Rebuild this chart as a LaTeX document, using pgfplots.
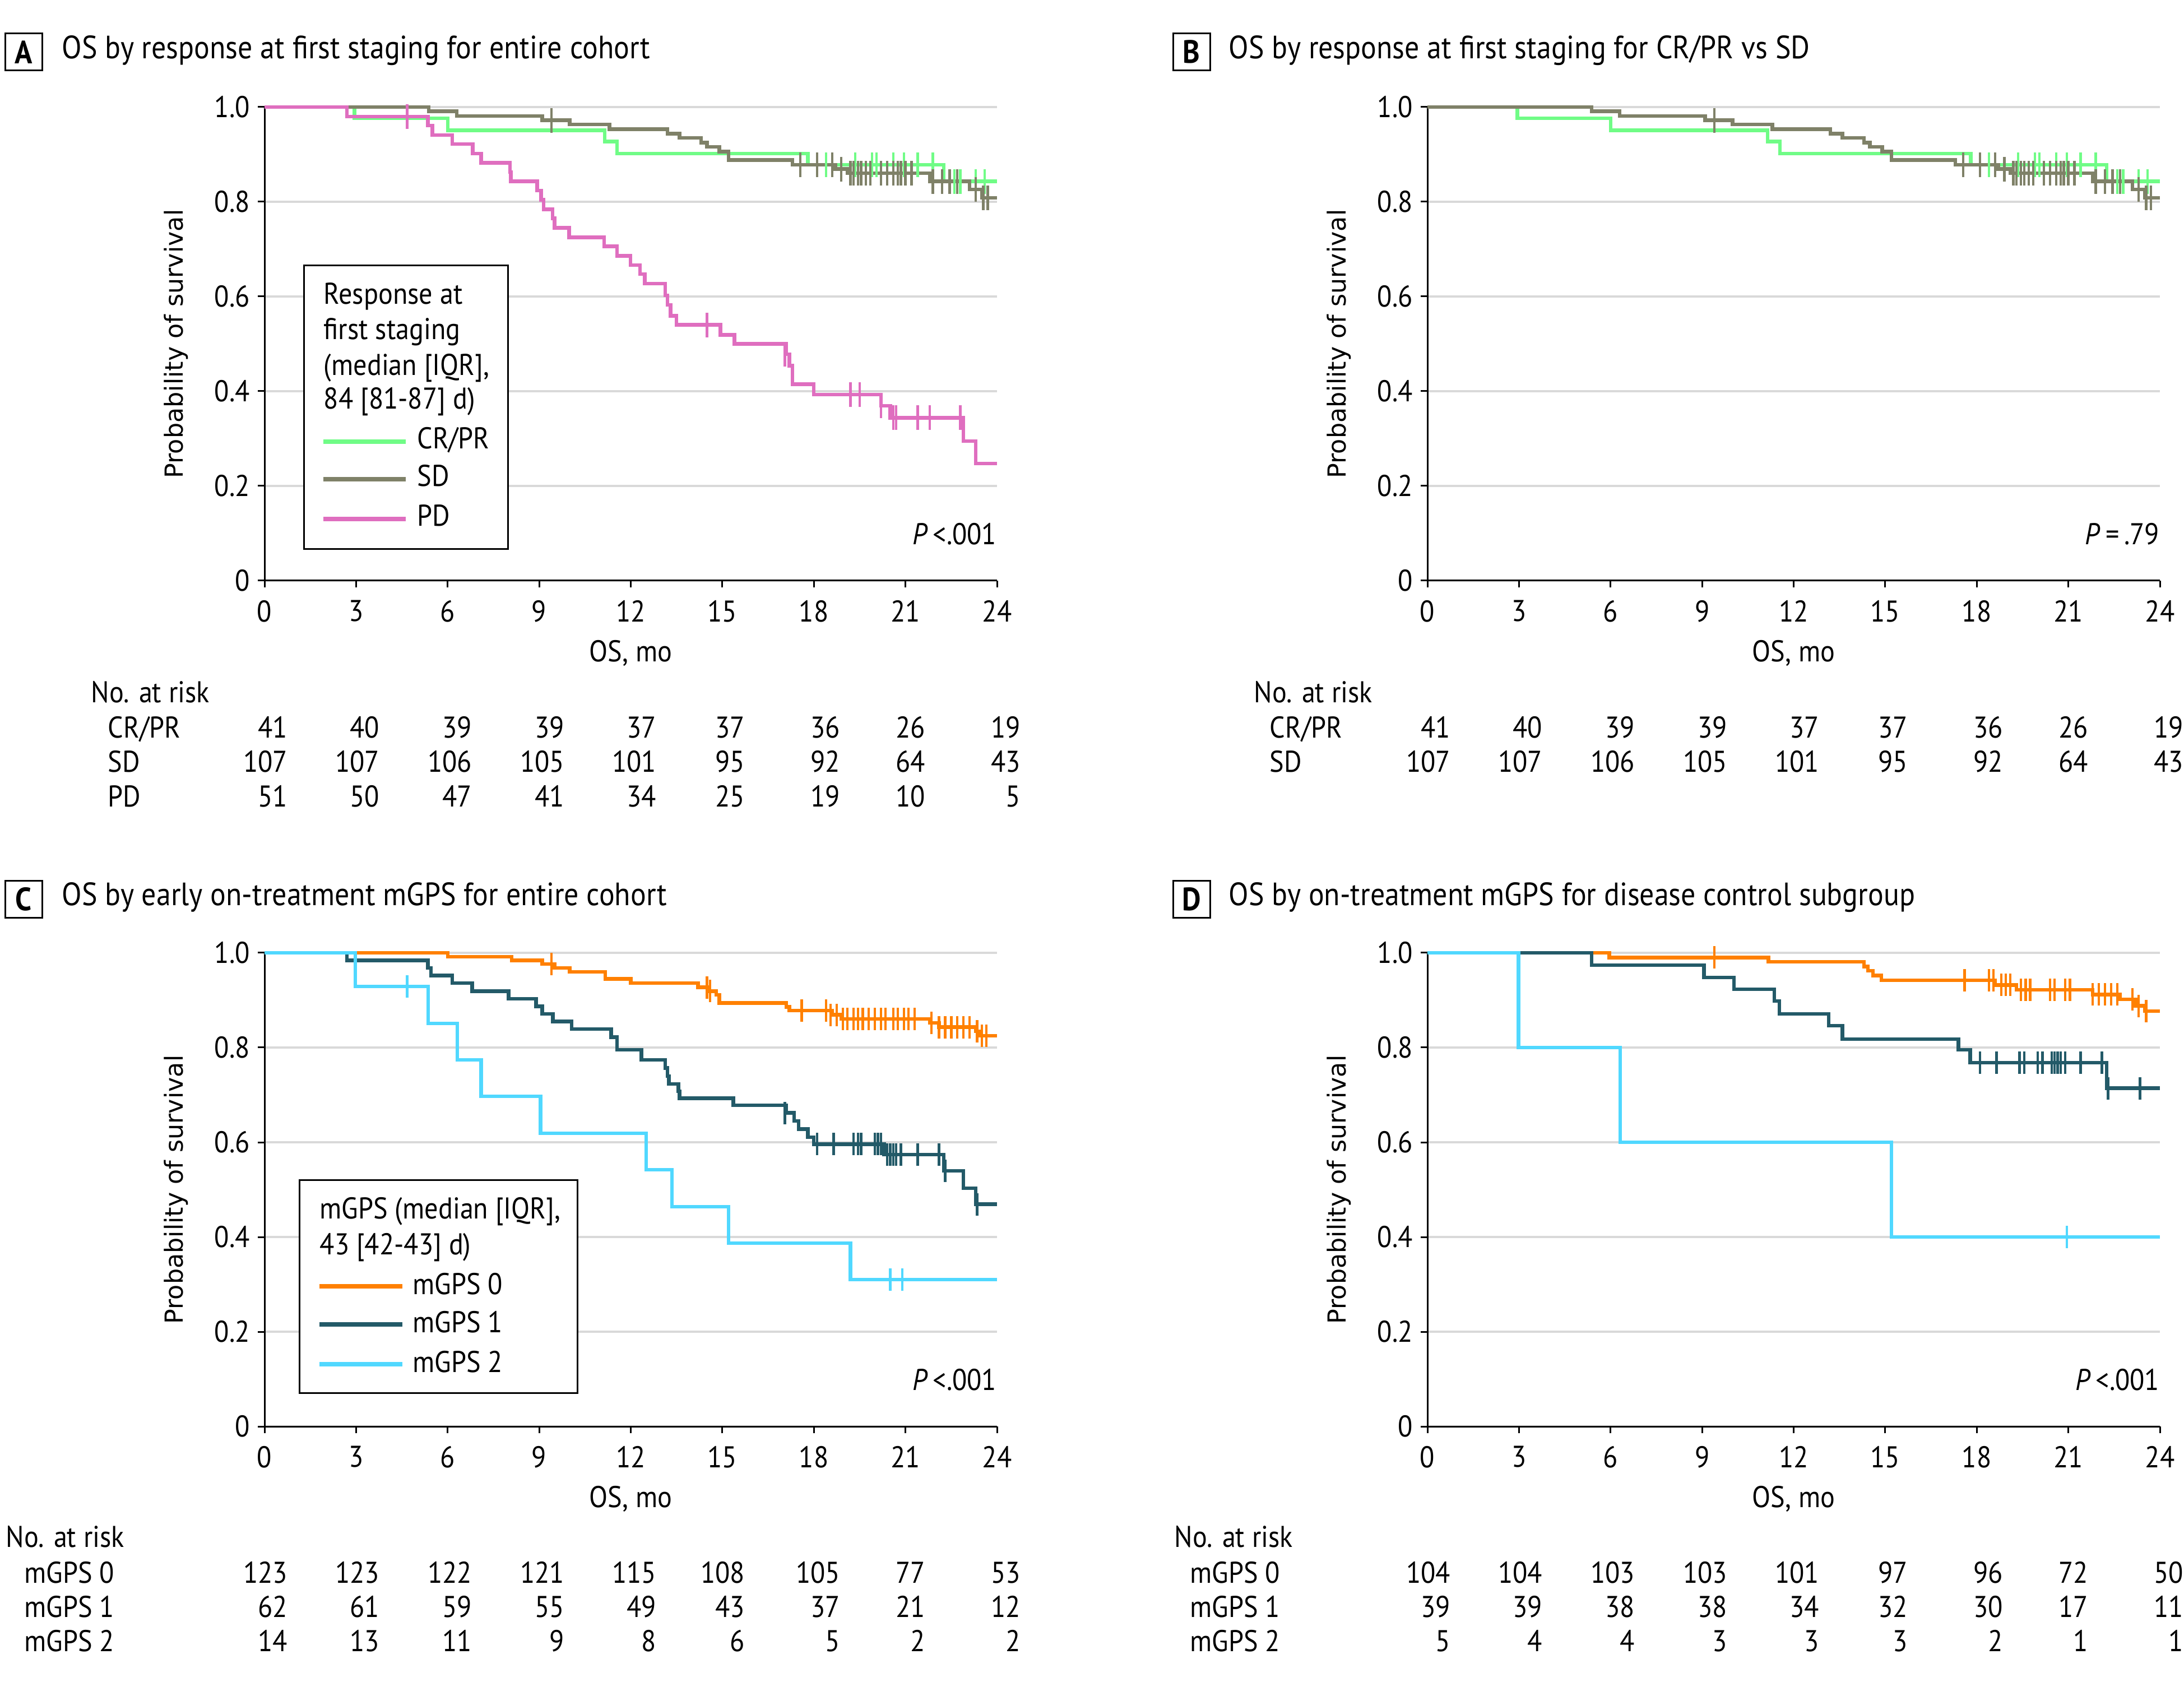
\documentclass[border=0pt]{standalone}
\usepackage{fontspec}
\setmainfont{PT Sans}[FakeStretch=0.9]
\newfontfamily\ylabfont{DejaVu Sans}
\usepackage{pgfplots}
\pgfplotsset{compat=1.18}
\definecolor{crpr}{HTML}{70FC86}
\definecolor{sdc}{HTML}{7F8168}
\definecolor{pdc}{HTML}{DF6EBF}
\definecolor{mgz}{HTML}{FF8000}
\definecolor{mgo}{HTML}{235A68}
\definecolor{mgt}{HTML}{50D8FF}
\definecolor{gridgray}{HTML}{D9D9D9}
\newcommand\tfont{\fontsize{13.4}{16}\selectfont}
\newcommand\hfont{\fontsize{14.4}{17}\selectfont}
\pgfplotsset{
  km/.style={scale only axis, width=326.75pt, height=211.25pt,
    xmin=0, xmax=24, ymin=0, ymax=1,
    axis x line*=bottom, axis y line*=left, tick pos=left,
    axis line style={-, line width=0.75pt},
    xtick={0,3,6,9,12,15,18,21,24}, xticklabels={0,3,6,9,12,15,18,21,24},
    ytick={0,0.2,0.4,0.6,0.8,1}, yticklabels={0,0.2,0.4,0.6,0.8,1.0},
    tick align=outside, major tick length=3pt,
    tick style={black, line width=0.75pt},
    ymajorgrids, grid style={color=gridgray, line width=1pt},
    clip=false,
    ticklabel style={font=\tfont},
    xticklabel style={yshift=-2.2pt},
    xlabel={OS, mo}, ylabel={Probability of survival},
    xlabel style={at={(axis description cs:0.5,-0.153)}, anchor=center, font=\tfont},
    ylabel style={at={(axis description cs:-0.121,0.5)}, anchor=center, font=\ylabfont\fontsize{11.1}{13}\selectfont},
  },
  kmline/.style={const plot, no marks, line width=1.6pt, color=#1},
  kmcens/.style={only marks, mark=|, mark size=5.5pt, color=#1, mark options={line width=1.1pt, color=#1}},
}
\newcommand\riskrow[3]{%
  \foreach \v [count=\i from 0] in {#3}{%
    \pgfmathsetmacro\xx{{128.5,169.5,210.75,252,293,332.5,375,413,455.5}[\i]+#1}%
    \node[anchor=mid east, inner sep=0pt, font=\tfont] at (\xx pt,#2 pt) {\v};}}
\begin{document}
\begin{tikzpicture}
\useasboundingbox (0,0) rectangle (974.25pt,750pt);
% ---------- Panel A ----------
\begin{axis}[km, at={(118pt,491pt)}, anchor=south west]
\addplot[kmline=crpr] coordinates {(0,1)(2.95,0.976)(6.0,0.951)(11.15,0.927)(11.55,0.902)(17.8,0.878)(22.25,0.843)(24,0.843)};
\addplot[kmcens=crpr] coordinates {(18.1,0.878)(18.4,0.878)(19.35,0.878)(19.9,0.878)(20.05,0.878)(20.6,0.878)(20.95,0.878)(21.4,0.878)(21.9,0.878)(22.6,0.843)(22.8,0.843)(23.3,0.843)(23.6,0.843)};
\addplot[kmline=sdc] coordinates {(0,1)(5.38,0.991)(6.3,0.981)(9.1,0.972)(10.0,0.963)(11.3,0.953)(13.2,0.944)(13.6,0.935)(14.3,0.925)(14.5,0.916)(14.9,0.906)(15.2,0.888)(17.3,0.878)(18.7,0.869)(19.1,0.86)(21.8,0.843)(23.1,0.826)(23.5,0.808)(24,0.808)};
\addplot[kmcens=sdc] coordinates {(9.4,0.972)(17.55,0.878)(18.1,0.878)(18.6,0.878)(18.9,0.869)(19.2,0.86)(19.3,0.86)(19.45,0.86)(19.55,0.86)(19.7,0.86)(19.85,0.86)(20.2,0.86)(20.4,0.86)(20.6,0.86)(20.75,0.86)(20.85,0.86)(21.0,0.86)(21.2,0.86)(21.9,0.843)(22.2,0.843)(22.45,0.843)(22.7,0.843)(23.3,0.826)(23.55,0.808)(23.7,0.808)};
\addplot[kmline=pdc] coordinates {(0,1)(2.7,0.980)(5.35,0.961)(5.5,0.941)(6.15,0.922)(6.82,0.902)(7.1,0.882)(8.04,0.863)(8.07,0.843)(8.93,0.824)(9.06,0.804)(9.14,0.784)(9.44,0.765)(9.5,0.745)(9.98,0.725)(11.13,0.706)(11.55,0.686)(11.99,0.666)(12.3,0.647)(12.46,0.627)(13.13,0.602)(13.2,0.582)(13.3,0.559)(13.5,0.540)(14.94,0.519)(15.4,0.500)(17.1,0.478)(17.2,0.454)(17.3,0.415)(18.0,0.393)(20.2,0.369)(20.5,0.344)(22.9,0.295)(23.3,0.247)(24,0.247)};
\addplot[kmcens=pdc] coordinates {(4.67,0.98)(14.5,0.54)(17.05,0.478)(19.2,0.393)(19.5,0.393)(20.2,0.369)(20.6,0.344)(20.7,0.344)(21.4,0.344)(21.8,0.344)(22.8,0.344)};
\draw[fill=white, line width=0.75pt] (axis cs:1.29,0.067) rectangle (axis cs:7.98,0.666);
\node[anchor=mid west, inner sep=0pt, font=\tfont] at (axis cs:1.93,0.596) {Response at};
\node[anchor=mid west, inner sep=0pt, font=\tfont] at (axis cs:1.93,0.521) {first staging};
\node[anchor=mid west, inner sep=0pt, font=\tfont] at (axis cs:1.93,0.446) {(median [IQR],};
\node[anchor=mid west, inner sep=0pt, font=\tfont] at (axis cs:1.93,0.374) {84 [81-87] d)};
\draw[crpr, line width=2pt] (axis cs:1.93,0.293) -- (axis cs:4.63,0.293);
\draw[sdc, line width=2pt] (axis cs:1.93,0.214) -- (axis cs:4.63,0.214);
\draw[pdc, line width=2pt] (axis cs:1.93,0.130) -- (axis cs:4.63,0.130);
\node[anchor=mid west, inner sep=0pt, font=\tfont] at (axis cs:4.99,0.290) {CR/PR};
\node[anchor=mid west, inner sep=0pt, font=\tfont] at (axis cs:4.99,0.211) {SD};
\node[anchor=mid west, inner sep=0pt, font=\tfont] at (axis cs:4.99,0.127) {PD};
\node[anchor=mid east, inner sep=0pt, font=\tfont] at (axis cs:24,0.088) {\textit{P}\,<.001};
\end{axis}
% ---------- Panel B ----------
\begin{axis}[km, at={(636.75pt,491pt)}, anchor=south west]
\addplot[kmline=crpr] coordinates {(0,1)(2.95,0.976)(6.0,0.951)(11.15,0.927)(11.55,0.902)(17.8,0.878)(22.25,0.843)(24,0.843)};
\addplot[kmcens=crpr] coordinates {(18.1,0.878)(18.4,0.878)(19.35,0.878)(19.9,0.878)(20.05,0.878)(20.6,0.878)(20.95,0.878)(21.4,0.878)(21.9,0.878)(22.6,0.843)(22.8,0.843)(23.3,0.843)(23.6,0.843)};
\addplot[kmline=sdc] coordinates {(0,1)(5.38,0.991)(6.3,0.981)(9.1,0.972)(10.0,0.963)(11.3,0.953)(13.2,0.944)(13.6,0.935)(14.3,0.925)(14.5,0.916)(14.9,0.906)(15.2,0.888)(17.3,0.878)(18.7,0.869)(19.1,0.86)(21.8,0.843)(23.1,0.826)(23.5,0.808)(24,0.808)};
\addplot[kmcens=sdc] coordinates {(9.4,0.972)(17.55,0.878)(18.1,0.878)(18.6,0.878)(18.9,0.869)(19.2,0.86)(19.3,0.86)(19.45,0.86)(19.55,0.86)(19.7,0.86)(19.85,0.86)(20.2,0.86)(20.4,0.86)(20.6,0.86)(20.75,0.86)(20.85,0.86)(21.0,0.86)(21.2,0.86)(21.9,0.843)(22.2,0.843)(22.45,0.843)(22.7,0.843)(23.3,0.826)(23.55,0.808)(23.7,0.808)};
\node[anchor=mid east, inner sep=0pt, font=\tfont] at (axis cs:24,0.088) {\textit{P}\,=\,.79};
\end{axis}
% ---------- Panel C ----------
\begin{axis}[km, at={(118pt,113.75pt)}, anchor=south west]
\addplot[kmline=mgz] coordinates {(0,1)(6.0,0.992)(8.1,0.984)(9.1,0.976)(9.5,0.968)(10.0,0.960)(11.16,0.945)(12.0,0.936)(14.2,0.927)(14.55,0.919)(14.8,0.911)(14.9,0.894)(17.1,0.886)(17.2,0.878)(18.6,0.869)(18.9,0.860)(21.8,0.852)(22.1,0.843)(23.3,0.834)(23.45,0.825)(24,0.825)};
\addplot[kmcens=mgz, mark size=5pt] coordinates {(9.4,0.976)(14.5,0.927)(14.6,0.919)(17.6,0.878)(18.4,0.878)(18.55,0.869)(18.75,0.869)(18.95,0.860)(19.1,0.860)(19.3,0.860)(19.45,0.860)(19.6,0.860)(19.8,0.860)(20.0,0.860)(20.2,0.860)(20.35,0.860)(20.6,0.860)(20.75,0.860)(20.95,0.860)(21.1,0.860)(21.3,0.860)(21.85,0.852)(22.1,0.843)(22.3,0.843)(22.5,0.843)(22.7,0.843)(22.9,0.843)(23.1,0.843)(23.35,0.834)(23.5,0.825)(23.65,0.825)};
\addplot[kmline=mgo] coordinates {(0,1)(2.7,0.984)(5.35,0.968)(5.45,0.952)(6.15,0.936)(6.8,0.919)(8.0,0.903)(8.9,0.887)(9.1,0.871)(9.45,0.855)(10.06,0.839)(11.36,0.822)(11.55,0.795)(12.35,0.774)(13.13,0.757)(13.2,0.740)(13.25,0.723)(13.56,0.708)(13.6,0.693)(15.36,0.678)(17.1,0.662)(17.35,0.645)(17.5,0.628)(17.8,0.611)(18.0,0.596)(20.3,0.574)(22.25,0.540)(22.9,0.503)(23.3,0.469)(24,0.469)};
\addplot[kmcens=mgo, mark size=5pt] coordinates {(17.05,0.662)(18.1,0.596)(18.65,0.596)(19.3,0.596)(19.45,0.596)(19.55,0.596)(20.0,0.596)(20.1,0.596)(20.2,0.596)(20.4,0.574)(20.5,0.574)(20.6,0.574)(20.7,0.574)(20.85,0.574)(21.4,0.574)(22.1,0.574)(22.3,0.540)(23.35,0.469)};
\addplot[kmline=mgt] coordinates {(0,1)(2.98,0.929)(5.36,0.851)(6.32,0.774)(7.1,0.697)(9.04,0.619)(12.5,0.542)(13.35,0.464)(15.2,0.387)(19.2,0.310)(24,0.310)};
\addplot[kmcens=mgt, mark size=5pt] coordinates {(4.67,0.929)(20.5,0.31)(20.9,0.31)};
\draw[fill=white, line width=0.75pt] (axis cs:1.14,0.071) rectangle (axis cs:10.26,0.52);
\node[anchor=mid west, inner sep=0pt, font=\tfont] at (axis cs:1.80,0.450) {mGPS (median [IQR],};
\node[anchor=mid west, inner sep=0pt, font=\tfont] at (axis cs:1.80,0.374) {43 [42-43] d)};
\draw[mgz, line width=2pt] (axis cs:1.80,0.296) -- (axis cs:4.51,0.296);
\draw[mgo, line width=2pt] (axis cs:1.80,0.215) -- (axis cs:4.51,0.215);
\draw[mgt, line width=2pt] (axis cs:1.80,0.131) -- (axis cs:4.51,0.131);
\node[anchor=mid west, inner sep=0pt, font=\tfont] at (axis cs:4.84,0.291) {mGPS 0};
\node[anchor=mid west, inner sep=0pt, font=\tfont] at (axis cs:4.84,0.210) {mGPS 1};
\node[anchor=mid west, inner sep=0pt, font=\tfont] at (axis cs:4.84,0.126) {mGPS 2};
\node[anchor=mid east, inner sep=0pt, font=\tfont] at (axis cs:24,0.088) {\textit{P}\,<.001};
\end{axis}
% ---------- Panel D ----------
\begin{axis}[km, at={(636.75pt,113.75pt)}, anchor=south west]
\addplot[kmline=mgz] coordinates {(0,1)(5.96,0.990)(11.17,0.981)(14.3,0.971)(14.43,0.962)(14.6,0.952)(14.87,0.942)(18.6,0.932)(19.3,0.922)(21.8,0.912)(22.7,0.902)(23.2,0.888)(23.5,0.877)(24,0.877)};
\addplot[kmcens=mgz, mark size=5pt] coordinates {(9.4,0.990)(17.6,0.942)(18.4,0.942)(18.55,0.942)(18.8,0.932)(18.95,0.932)(19.1,0.932)(19.45,0.922)(19.6,0.922)(19.75,0.922)(20.4,0.922)(20.55,0.922)(20.9,0.922)(21.05,0.922)(21.8,0.912)(22.0,0.912)(22.2,0.912)(22.4,0.912)(22.6,0.912)(23.1,0.902)(23.3,0.888)(23.55,0.877)};
\addplot[kmline=mgo] coordinates {(0,1)(5.38,0.974)(9.06,0.948)(10.04,0.923)(11.37,0.898)(11.53,0.871)(13.15,0.846)(13.6,0.818)(17.4,0.795)(17.78,0.768)(22.25,0.714)(24,0.714)};
\addplot[kmcens=mgo, mark size=5pt] coordinates {(18.1,0.768)(18.65,0.768)(19.4,0.768)(19.55,0.768)(20.0,0.768)(20.15,0.768)(20.45,0.768)(20.55,0.768)(20.65,0.768)(20.75,0.768)(20.9,0.768)(21.4,0.768)(22.1,0.768)(22.3,0.714)(23.35,0.714)};
\addplot[kmline=mgt] coordinates {(0,1)(2.98,0.8)(6.32,0.6)(15.2,0.4)(24,0.4)};
\addplot[kmcens=mgt, mark size=5pt] coordinates {(20.95,0.4)};
\node[anchor=mid east, inner sep=0pt, font=\tfont] at (axis cs:24,0.088) {\textit{P}\,<.001};
\end{axis}
% ---------- headers ----------
\foreach \bx/\by/\L in {10.5/726.8/A, 531.5/726.8/B, 10.5/348.8/C, 531.5/348.8/D}{
  \node[draw, line width=0.75pt, minimum width=16.5pt, minimum height=16.5pt, inner sep=0pt, font=\hfont\bfseries] at (\bx pt,\by pt) {\L};}
\node[anchor=mid west, inner sep=0pt, font=\hfont] at (27.5pt,726.3pt) {OS by response at first staging for entire cohort};
\node[anchor=mid west, inner sep=0pt, font=\hfont] at (548pt,726.3pt) {OS by response at first staging for CR/PR vs SD};
\node[anchor=mid west, inner sep=0pt, font=\hfont] at (27.5pt,348.6pt) {OS by early on-treatment mGPS for entire cohort};
\node[anchor=mid west, inner sep=0pt, font=\hfont] at (548pt,348.6pt) {OS by on-treatment mGPS for disease control subgroup};
% ---------- risk tables ----------
\node[anchor=mid west, inner sep=0pt, font=\tfont] at (40.5pt,439pt) {No. at risk};
\node[anchor=mid west, inner sep=0pt, font=\tfont] at (48pt,423.3pt) {CR/PR};
\node[anchor=mid west, inner sep=0pt, font=\tfont] at (48pt,408pt) {SD};
\node[anchor=mid west, inner sep=0pt, font=\tfont] at (48pt,392.5pt) {PD};
\riskrow{0}{423.3}{41,40,39,39,37,37,36,26,19}
\riskrow{0}{408}{107,107,106,105,101,95,92,64,43}
\riskrow{0}{392.5}{51,50,47,41,34,25,19,10,5}
\node[anchor=mid west, inner sep=0pt, font=\tfont] at (559.25pt,439pt) {No. at risk};
\node[anchor=mid west, inner sep=0pt, font=\tfont] at (566.25pt,423.3pt) {CR/PR};
\node[anchor=mid west, inner sep=0pt, font=\tfont] at (566.25pt,408pt) {SD};
\riskrow{518.75}{423.3}{41,40,39,39,37,37,36,26,19}
\riskrow{518.75}{408}{107,107,106,105,101,95,92,64,43}
\node[anchor=mid west, inner sep=0pt, font=\tfont] at (2.5pt,62.3pt) {No. at risk};
\node[anchor=mid west, inner sep=0pt, font=\tfont] at (10.7pt,46.3pt) {mGPS 0};
\node[anchor=mid west, inner sep=0pt, font=\tfont] at (10.7pt,31.2pt) {mGPS 1};
\node[anchor=mid west, inner sep=0pt, font=\tfont] at (10.7pt,15.8pt) {mGPS 2};
\riskrow{0}{46.3}{123,123,122,121,115,108,105,77,53}
\riskrow{0}{31.2}{62,61,59,55,49,43,37,21,12}
\riskrow{0}{15.8}{14,13,11,9,8,6,5,2,2}
\node[anchor=mid west, inner sep=0pt, font=\tfont] at (523.75pt,62.3pt) {No. at risk};
\node[anchor=mid west, inner sep=0pt, font=\tfont] at (530.75pt,46.3pt) {mGPS 0};
\node[anchor=mid west, inner sep=0pt, font=\tfont] at (530.75pt,31.2pt) {mGPS 1};
\node[anchor=mid west, inner sep=0pt, font=\tfont] at (530.75pt,15.8pt) {mGPS 2};
\riskrow{518.75}{46.3}{104,104,103,103,101,97,96,72,50}
\riskrow{518.75}{31.2}{39,39,38,38,34,32,30,17,11}
\riskrow{518.75}{15.8}{5,4,4,3,3,3,2,1,1}
\end{tikzpicture}
\end{document}
